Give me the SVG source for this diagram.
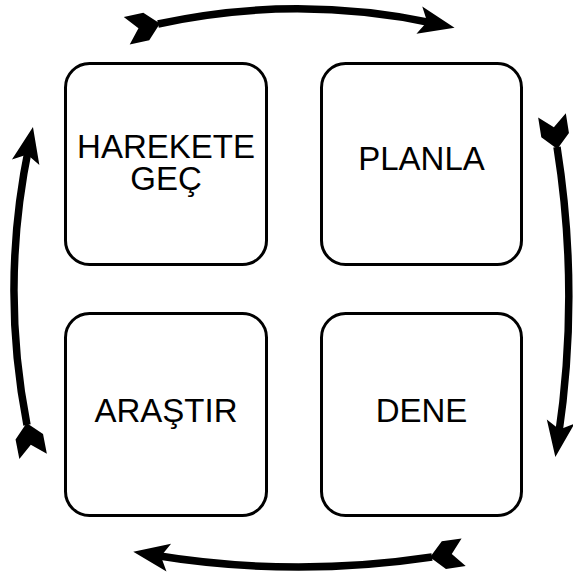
<svg xmlns="http://www.w3.org/2000/svg" width="573" height="575" viewBox="0 0 573 575">
<style>
.box{fill:#fff;stroke:#000;stroke-width:3}
.lbl{font-family:"Liberation Sans",Arial,sans-serif;font-size:33px;fill:#000;text-anchor:middle}
.arc{fill:none;stroke:#000;stroke-width:7.5;marker-start:url(#tail);marker-end:url(#head)}
</style>
<defs>
<marker id="head" markerUnits="userSpaceOnUse" viewBox="-40 -20 80 40" markerWidth="80" markerHeight="40" refX="0" refY="0" orient="auto" overflow="visible">
<path d="M20 0 L-16 -14 L-8 0 L-16 14 Z" fill="#000"/>
</marker>
<marker id="tail" markerUnits="userSpaceOnUse" viewBox="-40 -20 80 40" markerWidth="80" markerHeight="40" refX="0" refY="0" orient="auto" overflow="visible">
<path d="M2 0 L-12 -14 L-32 -14 L-20 0 L-32 14 L-12 14 Z" fill="#000"/>
</marker>
</defs>
<g id="connectors">
<path class="arc" d="M158 24 Q296 -6 435 23.5"/>
<path class="arc" d="M557 147 Q580 292 558.3 437.3"/>
<path class="arc" d="M432 557 Q292 578 153 555"/>
<path class="arc" d="M27 425 Q0 286 28.9 146.6"/>
</g>
<g id="node-harekete">
<rect class="box" x="65.5" y="63.5" width="201" height="201" rx="24"/>
<text class="lbl" x="166" y="158">HAREKETE</text>
<text class="lbl" x="166" y="190">GEÇ</text>
</g>
<g id="node-planla">
<rect class="box" x="321.5" y="63.5" width="200" height="201" rx="24"/>
<text class="lbl" x="421.5" y="170">PLANLA</text>
</g>
<g id="node-arastir">
<rect class="box" x="65.5" y="313.5" width="201" height="202" rx="24"/>
<text class="lbl" x="166" y="422">ARAŞTIR</text>
</g>
<g id="node-dene">
<rect class="box" x="321.5" y="313.5" width="200" height="202" rx="24"/>
<text class="lbl" x="421.5" y="422">DENE</text>
</g>
</svg>
